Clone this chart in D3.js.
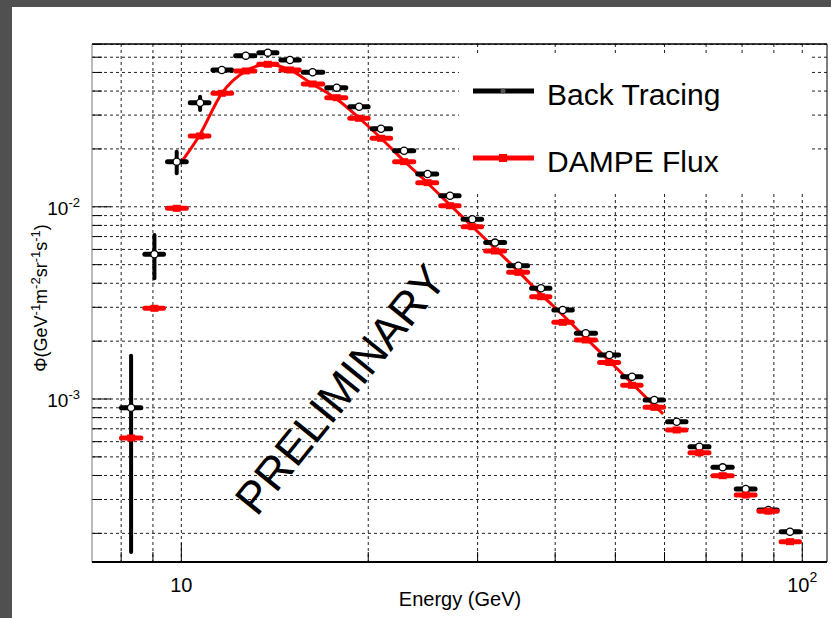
<!DOCTYPE html>
<html>
<head>
<meta charset="utf-8">
<script src="https://cdn.jsdelivr.net/npm/d3@7"></script>
<style>
	body { margin: 0; background: #fff; }
	svg { display: block; font-family: "Liberation Sans", Arial, sans-serif; }
</style>
</head>
<body>
<div id="chart"></div>
<script>
// bin edges (GeV) and centres
var binEdges = [7.95, 8.67, 9.43, 10.26, 11.16, 12.14, 13.23, 14.36, 15.60, 17.02, 18.54, 20.14, 21.89, 23.85, 25.97,
	28.22, 30.68, 33.41, 36.38, 39.51, 42.94, 46.80, 50.99, 55.41, 60.22, 65.45, 71.28, 77.69, 84.56, 91.77, 99.7];
var energy = [8.30, 9.05, 9.83, 10.72, 11.62, 12.70, 13.78, 14.96, 16.27, 17.79, 19.33, 20.97, 22.84, 24.92, 27.08,
	29.42, 32.00, 34.89, 37.95, 41.14, 44.80, 48.90, 53.19, 57.77, 62.77, 68.26, 74.44, 81.07, 88.16, 95.54];

// Back Tracing flux
var backTracing = [9.01e-4, 5.66e-3, 0.01717, 0.03480, 0.05150, 0.06113, 0.06337, 0.05805, 0.05010, 0.04167,
	0.03318, 0.02549, 0.01958, 0.01481, 0.01142, 8.62e-3, 6.51e-3, 4.94e-3, 3.77e-3, 2.904e-3,
	2.197e-3, 1.694e-3, 1.306e-3, 9.88e-4, 7.62e-4, 5.65e-4, 4.41e-4, 3.40e-4, 2.645e-4, 2.04e-4];
// vertical error bars (only visible on the first bins)
var btUpper = [1.68e-3, 7.13e-3, 0.01935, 0.03740];
var btLower = [1.60e-4, 4.25e-3, 0.01494, 0.03189];

// DAMPE flux
var dampe = [6.27e-4, 2.964e-3, 9.82e-3, 0.02336, 0.03895, 0.05089, 0.05513, 0.05150, 0.04355, 0.03695,
	0.02887, 0.02272, 0.01717, 0.01335, 0.01013, 7.88e-3, 5.89e-3, 4.56e-3, 3.405e-3, 2.506e-3,
	2.028e-3, 1.548e-3, 1.178e-3, 9.05e-4, 6.90e-4, 5.25e-4, 3.99e-4, 3.165e-4, 2.61e-4, 1.81e-4];

// red fit curve
var fitE = [10.01, 10.68, 11.62, 12.70, 13.78, 14.96, 16.25, 17.79, 19.33, 20.97, 22.84, 24.92, 27.08, 29.42,
	32.00, 34.89, 37.95, 41.14, 44.80, 48.90, 53.19, 57.77, 59.68];
var fitFlux = [0.01717, 0.02336, 0.03895, 0.05089, 0.05513, 0.0515, 0.04355, 0.03638, 0.02897, 0.02272, 0.01731,
	0.01330, 0.01022, 7.90e-3, 6.07e-3, 4.61e-3, 3.50e-3, 2.735e-3, 2.077e-3, 1.576e-3, 1.204e-3, 9.25e-4, 8.36e-4];

// axis ticks
var xGrid = [8, 9, 10, 20, 30, 40, 50, 60, 70, 80, 90, 100];
var xMajor = [10, 100];
var xLabels = [["10", ""], ["10", "2"]];
var yMajor = [1e-2, 1e-3];
var yLabels = [["10", "-2"], ["10", "-3"]];

var W = 831, H = 618;
var margin = {top: 44, right: 4, bottom: 56, left: 92},
	width = W - margin.left - margin.right,
	height = H - margin.top - margin.bottom;

var svg = d3.select("#chart").append("svg")
	.attr("width", W)
	.attr("height", H);

// dark window border
svg.append("rect").attr("x", 0).attr("y", 0).attr("width", W).attr("height", 7).attr("fill", "#505050");
svg.append("rect").attr("x", 0).attr("y", 0).attr("width", 12).attr("height", H).attr("fill", "#505050");

var g = svg.append("g")
	.attr("transform", "translate(" + margin.left + "," + margin.top + ")");

var x = d3.scaleLog().domain([7.18, 109.6]).range([0, width]);
var y = d3.scaleLog().domain([1.419e-4, 0.0703]).range([height, 0]);

// grid
var yGrid = y.ticks().filter(function(v) { return v > y.domain()[0] && v < y.domain()[1]; });
g.append("g").selectAll("line").data(xGrid).enter().append("line")
	.attr("x1", function(d) { return x(d); }).attr("x2", function(d) { return x(d); })
	.attr("y1", 0).attr("y2", height)
	.attr("stroke", "#222").attr("stroke-width", 1).attr("stroke-dasharray", "3,3");
g.append("g").selectAll("line").data(yGrid).enter().append("line")
	.attr("y1", function(d) { return y(d); }).attr("y2", function(d) { return y(d); })
	.attr("x1", 0).attr("x2", width)
	.attr("stroke", "#222").attr("stroke-width", 1).attr("stroke-dasharray", "3,3");

// ticks (inside the frame)
g.append("g").selectAll("line").data(xGrid).enter().append("line")
	.attr("x1", function(d) { return x(d); }).attr("x2", function(d) { return x(d); })
	.attr("y1", height).attr("y2", function(d) { return height - (xMajor.indexOf(d) >= 0 ? 19 : 10); })
	.attr("stroke", "#000");
g.append("g").selectAll("line").data(yGrid).enter().append("line")
	.attr("y1", function(d) { return y(d); }).attr("y2", function(d) { return y(d); })
	.attr("x1", 0).attr("x2", function(d) { return yMajor.indexOf(d) >= 0 ? 19 : 10; })
	.attr("stroke", "#000");

// legend box covers the grid
g.append("rect")
	.attr("x", 459 - margin.left).attr("y", 55 - margin.top)
	.attr("width", 350).attr("height", 138)
	.attr("fill", "#fff");

// frame
g.append("line").attr("x1", 0).attr("x2", width).attr("y1", 0).attr("y2", 0).attr("stroke", "#000").attr("stroke-width", 1.5);
g.append("line").attr("x1", 0).attr("x2", 0).attr("y1", 0).attr("y2", height).attr("stroke", "#777");
g.append("line").attr("x1", width).attr("x2", width).attr("y1", 0).attr("y2", height).attr("stroke", "#000");
g.append("line").attr("x1", 0).attr("x2", width).attr("y1", height).attr("y2", height).attr("stroke", "#000").attr("stroke-width", 2);

// tick labels
var xl = g.append("g").selectAll("text").data(xMajor).enter().append("text")
	.attr("x", function(d) { return x(d); })
	.attr("y", height + 30)
	.attr("text-anchor", "middle")
	.style("font-size", "20px");
xl.append("tspan").text(function(d, i) { return xLabels[i][0]; });
xl.append("tspan").attr("dy", -10).style("font-size", "14px").text(function(d, i) { return xLabels[i][1]; });

var yl = g.append("g").selectAll("text").data(yMajor).enter().append("text")
	.attr("x", 80 - margin.left)
	.attr("y", function(d) { return y(d) + 8; })
	.attr("text-anchor", "end")
	.style("font-size", "19px");
yl.append("tspan").text(function(d, i) { return yLabels[i][0]; });
yl.append("tspan").attr("dy", -8).style("font-size", "13px").text(function(d, i) { return yLabels[i][1]; });

// axis titles
svg.append("text")
	.attr("x", 460).attr("y", 606)
	.attr("text-anchor", "middle")
	.style("font-size", "20px")
	.text("Energy (GeV)");

var yt = svg.append("text")
	.attr("transform", "translate(47,298)rotate(-90)")
	.attr("text-anchor", "middle")
	.style("font-size", "18px");
var parts = [["\u03A6(GeV", "-1"], ["m", "-2"], ["sr", "-1"], ["s", "-1"], [")", ""]];
var raised = false;
parts.forEach(function(p) {
	yt.append("tspan").attr("dy", raised ? 7 : 0).text(p[0]);
	raised = false;
	if (p[1]) {
		yt.append("tspan").attr("dy", -7).style("font-size", "13px").text(p[1]);
		raised = true;
	}
});

// PRELIMINARY watermark
g.append("text")
	.attr("transform", "translate(" + (340 - margin.left) + "," + (389 - margin.top) + ")rotate(-51)")
	.attr("text-anchor", "middle")
	.attr("dy", "0.36em")
	.style("font-size", "45px")
	.text("PRELIMINARY");

// fit curve
var line = d3.line()
	.x(function(d) { return x(d[0]); })
	.y(function(d) { return y(d[1]); })
	.curve(d3.curveMonotoneX);
g.append("path")
	.datum(fitE.map(function(e, i) { return [e, fitFlux[i]]; }))
	.attr("d", line)
	.attr("fill", "none")
	.attr("stroke", "#ff0000")
	.attr("stroke-width", 3);

// Back Tracing points
var bt = g.append("g").selectAll("g").data(backTracing).enter().append("g");
bt.append("line")
	.attr("x1", function(d, i) { return x(binEdges[i]) + 2; })
	.attr("x2", function(d, i) { return x(binEdges[i + 1]) - 2; })
	.attr("y1", function(d) { return y(d); })
	.attr("y2", function(d) { return y(d); })
	.attr("stroke", "#000").attr("stroke-width", 5).attr("stroke-linecap", "round");
bt.filter(function(d, i) { return i < btUpper.length; }).append("line")
	.attr("x1", function(d, i) { return x(energy[i]); })
	.attr("x2", function(d, i) { return x(energy[i]); })
	.attr("y1", function(d, i) { return y(btUpper[i]); })
	.attr("y2", function(d, i) { return y(btLower[i]); })
	.attr("stroke", "#000").attr("stroke-width", 4).attr("stroke-linecap", "round");

// DAMPE points
var dp = g.append("g").selectAll("g").data(dampe).enter().append("g");
dp.append("line")
	.attr("x1", function(d, i) { return x(binEdges[i]) + 2; })
	.attr("x2", function(d, i) { return x(binEdges[i + 1]) - 2; })
	.attr("y1", function(d) { return y(d); })
	.attr("y2", function(d) { return y(d); })
	.attr("stroke", "#ff0000").attr("stroke-width", 5).attr("stroke-linecap", "round");
dp.append("rect")
	.attr("x", function(d, i) { return x(energy[i]) - 4; })
	.attr("y", function(d) { return y(d) - 3.5; })
	.attr("width", 8).attr("height", 7)
	.attr("fill", "#ff0000");

bt.append("circle")
	.attr("cx", function(d, i) { return x(energy[i]); })
	.attr("cy", function(d) { return y(d); })
	.attr("r", 3.6)
	.attr("fill", "#fff").attr("stroke", "#000").attr("stroke-width", 1.3);

// legend
var legend = svg.append("g");
legend.append("line").attr("x1", 473).attr("x2", 534).attr("y1", 91).attr("y2", 91)
	.attr("stroke", "#000").attr("stroke-width", 5);
legend.append("circle").attr("cx", 503).attr("cy", 91).attr("r", 2.5).attr("fill", "#555");
legend.append("text").attr("x", 547).attr("y", 105).style("font-size", "30px").text("Back Tracing");

legend.append("line").attr("x1", 473).attr("x2", 534).attr("y1", 158).attr("y2", 158)
	.attr("stroke", "#ff0000").attr("stroke-width", 5);
legend.append("rect").attr("x", 499).attr("y", 154).attr("width", 8).attr("height", 8).attr("fill", "#ff0000");
legend.append("text").attr("x", 547).attr("y", 172).style("font-size", "30px").text("DAMPE Flux");
</script>
</body>
</html>
